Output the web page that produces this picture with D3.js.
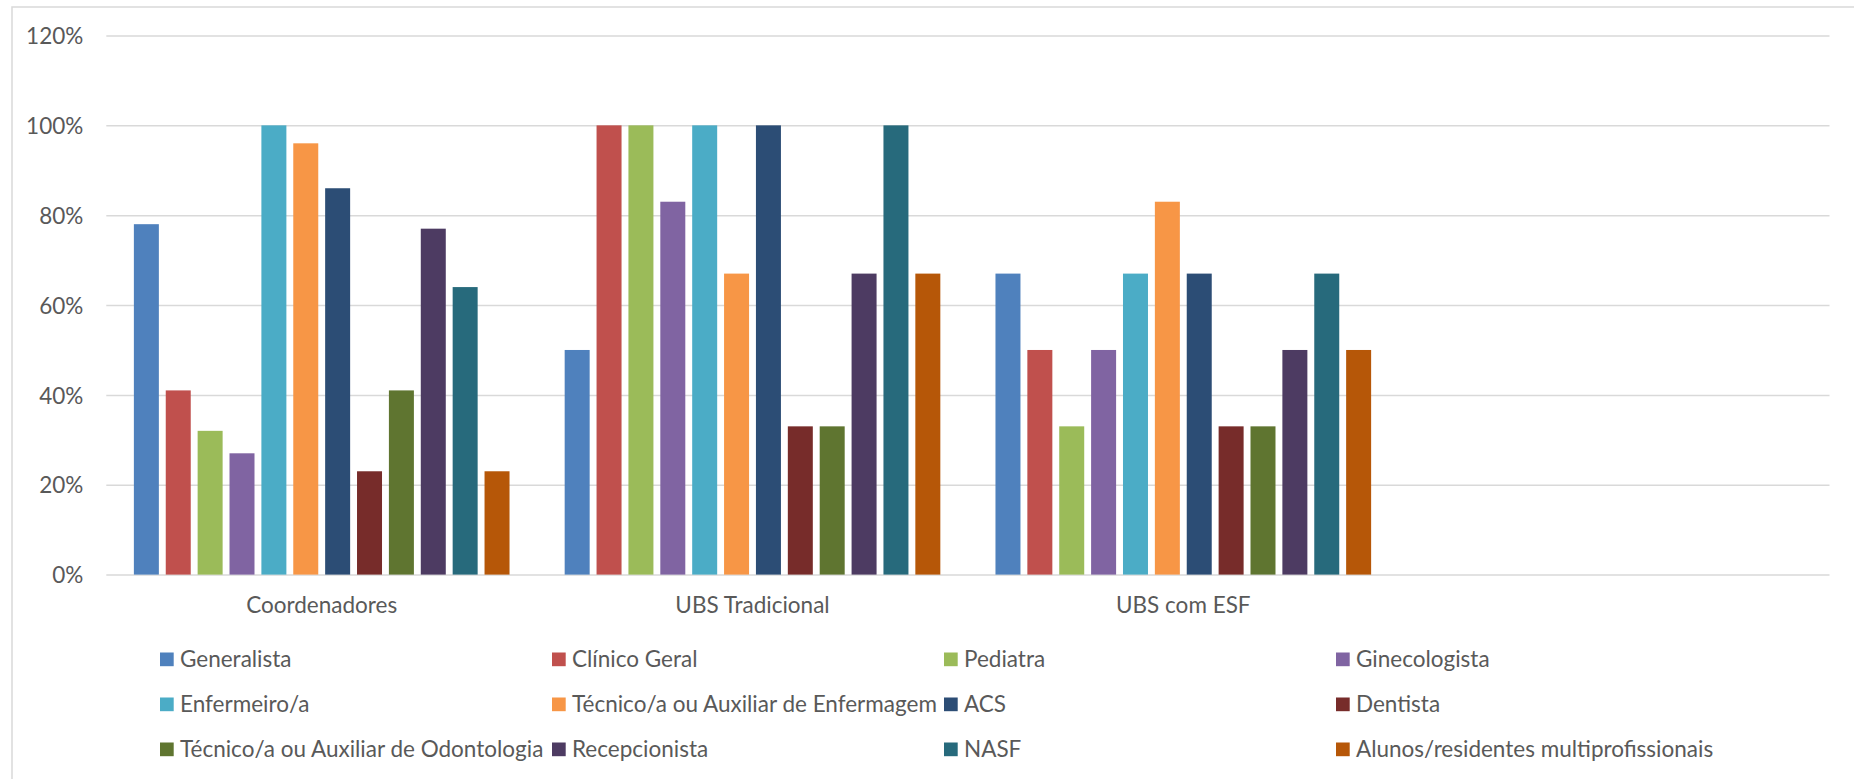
<!DOCTYPE html>
<html>
<head>
<meta charset="utf-8">
<script src="https://cdn.jsdelivr.net/npm/d3@7"></script>
<style>
  html, body { margin: 0; padding: 0; background: #ffffff; }
  svg { display: block; }
  text { font-family: Lato, "Open Sans", sans-serif; fill: #595959; }
</style>
</head>
<body>
<svg id="chart" width="1854" height="779"></svg>
<script>
// Categories (the fourth slot is an empty category, left blank on the axis)
const categories = ["Coordenadores", "UBS Tradicional", "UBS com ESF", ""];

// Professional groups, in legend / bar order
const series = [
  "Generalista", "Clínico Geral", "Pediatra", "Ginecologista",
  "Enfermeiro/a", "Técnico/a ou Auxiliar de Enfermagem", "ACS", "Dentista",
  "Técnico/a ou Auxiliar de Odontologia", "Recepcionista", "NASF",
  "Alunos/residentes multiprofissionais"
];

const seriesColors = [
  "#4F81BD", "#C0504D", "#9BBB59", "#8064A2",
  "#4BACC6", "#F79646", "#2C4D75", "#772C2A",
  "#5F7530", "#4D3B62", "#276A7C", "#B65708"
];

// Percentages per category, one entry per series
const coordenadores   = [78, 41, 32, 27, 100, 96, 86, 23, 41, 77, 64, 23];
const ubsTradicional  = [50, 100, 100, 83, 100, 67, 100, 33, 33, 67, 100, 67];
const ubsComEsf       = [67, 50, 33, 50, 67, 83, 67, 33, 33, 50, 67, 50];

const yTicks = [0, 0.2, 0.4, 0.6, 0.8, 1.0, 1.2];

const valuesByCategory = [coordenadores, ubsTradicional, ubsComEsf];

const svg = d3.select("#chart");

// Outer frame of the chart area
svg.append("rect")
  .attr("x", 12).attr("y", 7)
  .attr("width", 1860).attr("height", 800)
  .attr("fill", "#ffffff")
  .attr("stroke", "#d9d9d9").attr("stroke-width", 1.5);

const plot = { left: 106.3, right: 1829.5, top: 35.5, bottom: 574.6 };

const y = d3.scaleLinear().domain([0, 1.2]).range([plot.bottom, plot.top]);

const x0 = d3.scaleBand()
  .domain(categories)
  .range([plot.left, plot.right])
  .paddingInner(0.128)
  .paddingOuter(0.064);

const x1 = d3.scaleBand()
  .domain(series)
  .range([0, x0.bandwidth()])
  .paddingInner(0.216)
  .paddingOuter(0);

const color = d3.scaleOrdinal().domain(series).range(seriesColors);

// Y axis with gridlines
const yAxis = svg.append("g")
  .attr("transform", `translate(${plot.left},0)`)
  .call(d3.axisLeft(y)
    .tickValues(yTicks)
    .tickFormat(d3.format(".0%"))
    .tickSize(-(plot.right - plot.left))
    .tickPadding(23));
yAxis.select(".domain").remove();
yAxis.selectAll(".tick line")
  .attr("stroke", "#d9d9d9")
  .attr("stroke-width", 1.5);
yAxis.selectAll(".tick text")
  .attr("fill", "#595959")
  .style("font-size", "22.5px")
  .attr("dy", "0.36em");

// Bars
const groups = svg.append("g")
  .selectAll("g")
  .data(valuesByCategory)
  .join("g")
  .attr("transform", (d, i) => `translate(${x0(categories[i])},0)`);

groups.selectAll("rect")
  .data(vals => vals.map((v, j) => ({ key: series[j], value: v / 100 })))
  .join("rect")
  .attr("x", d => x1(d.key))
  .attr("width", x1.bandwidth())
  .attr("y", d => y(d.value))
  .attr("height", d => y(0) - y(d.value))
  .attr("fill", d => color(d.key));

// Category axis
const xAxis = svg.append("g")
  .attr("transform", `translate(0,${plot.bottom})`)
  .call(d3.axisBottom(x0).tickSize(0).tickPadding(0));
xAxis.select(".domain").remove();
xAxis.selectAll(".tick text")
  .attr("fill", "#595959")
  .style("font-size", "22.5px")
  .attr("y", 38.5)
  .attr("dy", 0);

// Legend: 4 columns x 3 rows
const legend = svg.append("g");
const legendItems = legend.selectAll("g")
  .data(series)
  .join("g")
  .attr("transform", (d, i) => `translate(${160 + (i % 4) * 392},${659.3 + Math.floor(i / 4) * 45})`);

legendItems.append("rect")
  .attr("x", 0).attr("y", -6.8)
  .attr("width", 13.7).attr("height", 13.7)
  .attr("fill", d => color(d));

legendItems.append("text")
  .attr("x", 20)
  .attr("y", 0)
  .attr("dy", "0.36em")
  .style("font-size", "22.5px")
  .text(d => d);
</script>
</body>
</html>
